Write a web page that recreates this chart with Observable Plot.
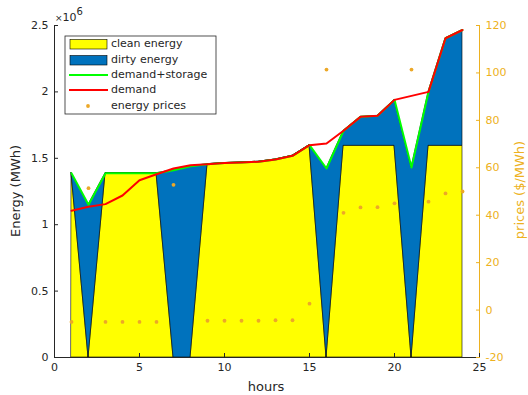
<!DOCTYPE html>
<html><head><meta charset="utf-8">
<script src="https://cdn.jsdelivr.net/npm/d3@7"></script>
<script src="https://cdn.jsdelivr.net/npm/@observablehq/plot@0.6"></script>
<style>body{margin:0;background:#fff;} svg{display:block;}</style>
</head><body><div id="chart"></div>
<script>
// Energy values in units of 10^6 MWh
const hours = [1,2,3,4,5,6,7,8,9,10,11,12,13,14,15,16,17,18,19,20,21,22,23,24];
const cleanEnergy = [1.388,0,1.388,1.388,1.388,1.388,0,0,1.456,1.464,1.469,1.474,1.491,1.519,1.599,0,1.594,1.594,1.594,1.594,0,1.594,1.594,1.594];
const dirtyEnergy = [0,1.15,0,0,0,0,1.41,1.44,0,0,0,0,0,0,0,1.423,0.113,0.218,0.226,0.346,1.431,0.406,0.81,0.872];
const demandStorage = [1.388,1.15,1.388,1.388,1.388,1.388,1.41,1.44,1.456,1.464,1.469,1.474,1.491,1.519,1.599,1.423,1.707,1.812,1.82,1.94,1.431,2.0,2.404,2.466];
const demand = [1.105,1.135,1.155,1.22,1.335,1.38,1.423,1.448,1.456,1.464,1.469,1.474,1.491,1.519,1.599,1.611,1.707,1.812,1.82,1.94,1.97,2.0,2.404,2.466];
const prices = [-5,51.4,-5,-5,-5,-5,52.8,null,-4.5,-4.5,-4.5,-4.5,-4.3,-4.3,2.7,101.4,41,43.3,43.4,45,101.4,45.7,49.2,50];
const energyTicks = [0,0.5,1,1.5,2,2.5];
const hourTicks = [0,5,10,15,20,25];
const priceTicks = [-20,0,20,40,60,80,100,120];
const legendLabels = ["clean energy","dirty energy","demand+storage","demand","energy prices"];

const priceDomain = [-20,120];
const energyDomain = [0,2.5];
const toE = p => (p - priceDomain[0]) / (priceDomain[1]-priceDomain[0]) * (energyDomain[1]-energyDomain[0]) + energyDomain[0];
const fromE = e => (e - energyDomain[0]) / (energyDomain[1]-energyDomain[0]) * (priceDomain[1]-priceDomain[0]) + priceDomain[0];

const rows = hours.map((h,i) => ({hour:h, clean:cleanEnergy[i], dirty:dirtyEnergy[i], total:cleanEnergy[i]+dirtyEnergy[i], ds:demandStorage[i], demand:demand[i], price:prices[i]}));
const priceRows = rows.filter(d => d.price != null);

const C = {yellow:"#FFFF00", blue:"#0072BD", green:"#00FF00", red:"#FF0000", orange:"#EDB120", dot:"#ECA828", ink:"#262626"};

const plot = Plot.plot({
  width: 528, height: 395,
  marginLeft: 54, marginRight: 49, marginTop: 25, marginBottom: 38,
  style: {fontFamily: "DejaVu Sans", fontSize: "11px", color: C.ink, background: "#fff"},
  x: {domain: [0,25]},
  y: {domain: energyDomain},
  marks: [
    Plot.areaY(rows, {x:"hour", y1:0, y2:"clean", fill:C.yellow, stroke:"#000", strokeWidth:0.6}),
    Plot.areaY(rows, {x:"hour", y1:"clean", y2:"total", fill:C.blue, stroke:"#000", strokeWidth:0.6}),
    Plot.lineY(rows, {x:"hour", y:"ds", stroke:C.green, strokeWidth:2}),
    Plot.lineY(rows, {x:"hour", y:"demand", stroke:C.red, strokeWidth:2}),
    Plot.dot(priceRows, {x:"hour", y: d => toE(d.price), r:1.9, fill:C.dot, stroke:null}),
    Plot.ruleY([0], {stroke:C.ink, strokeWidth:1}),
    Plot.ruleX([0], {stroke:C.ink, strokeWidth:1}),
    Plot.ruleX([25], {stroke:C.orange, strokeWidth:1}),
    Plot.axisX(hourTicks, {tickSize:-4, tickPadding:10, label:null, stroke:C.ink, fill:C.ink}),
    Plot.axisY(energyTicks, {anchor:"left", tickSize:-4, tickPadding:10, label:null, tickFormat: d => String(d), stroke:C.ink, fill:C.ink}),
    Plot.axisY(priceTicks.map(toE), {anchor:"right", tickSize:-4, tickPadding:10, label:null, tickFormat: d => String(Math.round(fromE(d))), stroke:C.orange, fill:C.orange})
  ]
});
document.getElementById("chart").append(plot);

const svg = d3.select(plot);
const font = "DejaVu Sans";
// axis labels
svg.append("text").attr("transform","translate(16,191) rotate(-90)").attr("text-anchor","middle").attr("dominant-baseline","middle")
  .attr("font-family",font).attr("font-size",13).attr("fill",C.ink).text("Energy (MWh)");
svg.append("text").attr("x",266).attr("y",387).attr("text-anchor","middle").attr("dominant-baseline","middle")
  .attr("font-family",font).attr("font-size",13).attr("fill",C.ink).text("hours");
svg.append("text").attr("transform","translate(520,190) rotate(-90)").attr("text-anchor","middle").attr("dominant-baseline","middle")
  .attr("font-family",font).attr("font-size",13).attr("fill",C.orange).text("prices ($/MWh)");
// exponent
const ex = svg.append("text").attr("x",55).attr("y",21).attr("text-anchor","start").attr("font-family",font).attr("font-size",11).attr("fill",C.ink);
ex.append("tspan").attr("font-size",9).text("\u00d7");
ex.append("tspan").text("10");
ex.append("tspan").attr("dy",-6).attr("font-size",10).text("6");

// legend
const lg = svg.append("g").attr("font-family",font).attr("font-size",11).attr("fill",C.ink).attr("text-anchor","start");
lg.append("rect").attr("x",65).attr("y",36).attr("width",151).attr("height",78).attr("fill","#fff").attr("stroke",C.ink).attr("stroke-width",0.8);
const rowY = [44,60,75,90,106];
lg.append("rect").attr("x",70).attr("y",39.5).attr("width",37).attr("height",9.5).attr("fill",C.yellow).attr("stroke","#000").attr("stroke-width",0.6);
lg.append("rect").attr("x",70).attr("y",55.5).attr("width",37).attr("height",9.5).attr("fill",C.blue).attr("stroke","#000").attr("stroke-width",0.6);
lg.append("line").attr("x1",69).attr("x2",108).attr("y1",rowY[2]).attr("y2",rowY[2]).attr("stroke",C.green).attr("stroke-width",2);
lg.append("line").attr("x1",69).attr("x2",108).attr("y1",rowY[3]).attr("y2",rowY[3]).attr("stroke",C.red).attr("stroke-width",2);
lg.append("circle").attr("cx",88).attr("cy",rowY[4]).attr("r",1.9).attr("fill",C.dot);
legendLabels.forEach((t,i) => {
  lg.append("text").attr("x",111).attr("y",rowY[i]).attr("text-anchor","start").attr("dominant-baseline","middle").text(t);
});
</script>
</body></html>
